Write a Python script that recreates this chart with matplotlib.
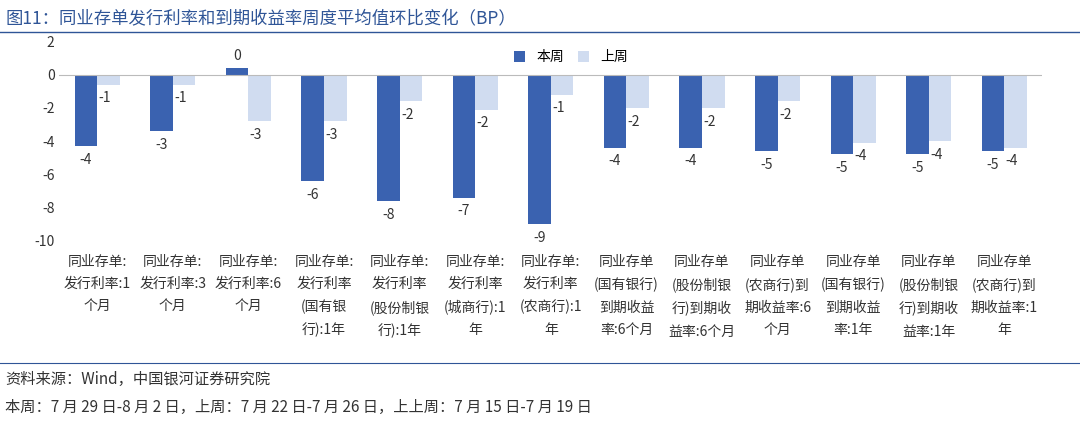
import matplotlib.pyplot as plt
import numpy as np

plt.rcParams['font.family'] = 'Noto Sans CJK SC'
plt.rcParams['axes.unicode_minus'] = False

categories = ['同业存单:\n发行利率:1\n个月', '同业存单:\n发行利率:3\n个月', '同业存单:\n发行利率:6\n个月',
              '同业存单:\n发行利率\n(国有银\n行):1年', '同业存单:\n发行利率\n(股份制银\n行):1年',
              '同业存单:\n发行利率\n(城商行):1\n年', '同业存单:\n发行利率\n(农商行):1\n年',
              '同业存单\n(国有银行)\n到期收益\n率:6个月', '同业存单\n(股份制银\n行)到期收\n益率:6个月',
              '同业存单\n(农商行)到\n期收益率:6\n个月', '同业存单\n(国有银行)\n到期收益\n率:1年',
              '同业存单\n(股份制银\n行)到期收\n益率:1年', '同业存单\n(农商行)到\n期收益率:1\n年']
this_week = [-4.3, -3.4, 0.4, -6.4, -7.6, -7.4, -9.0, -4.4, -4.4, -4.6, -4.8, -4.8, -4.6]
last_week = [-0.6, -0.6, -2.8, -2.8, -1.6, -2.1, -1.2, -2.0, -2.0, -1.6, -4.1, -4.0, -4.4]

fig = plt.figure(figsize=(10.8, 4.24), dpi=100)
ax = fig.add_axes([0.055, 0.432, 0.91, 0.47])
x = np.arange(len(categories))
w = 0.3
dark, light = '#3A62B0', '#D0DCF0'
ax.bar(x - w / 2, this_week, w, color=dark, label='本周')
ax.bar(x + w / 2, last_week, w, color=light, label='上周')
for xi, v in zip(x, this_week):
    ax.text(xi - w / 2, v + (0.3 if v > 0 else -0.4), f'{round(v):d}', ha='center',
            va='bottom' if v > 0 else 'top', fontsize=10, color='#333333')
for xi, v in zip(x, last_week):
    ax.text(xi + w / 2 - 0.05, v - 0.4, f'{round(v):d}', ha='center', va='top', fontsize=10, color='#333333')

ax.set_ylim(-10, 2)
ax.set_xlim(-0.5, len(categories) - 0.5)
ax.set_yticks(range(-10, 3, 2))
ax.axhline(0, color='#BBBBBB', lw=0.8)
for s in ax.spines.values():
    s.set_visible(False)
ax.tick_params(length=0, labelsize=10, colors='#333333')
ax.set_xticks(x)
ax.set_xticklabels(categories, fontsize=10, linespacing=1.75, va='top')
ax.tick_params(axis='x', pad=10)
ax.legend(loc='upper left', bbox_to_anchor=(0.45, 1.02), ncol=2, frameon=False, fontsize=10,
          handlelength=0.8, handleheight=0.8, columnspacing=1.0)

fig.text(0.005, 0.955, '图11：同业存单发行利率和到期收益率周度平均值环比变化（BP）', fontsize=12.5,
         color='#2F5597', va='center')
fig.add_artist(plt.Line2D([0, 1], [0.925, 0.925], color='#2F5597', lw=1))
fig.add_artist(plt.Line2D([0, 1], [0.145, 0.145], color='#2F5597', lw=0.8))
fig.text(0.005, 0.105, '资料来源：Wind，中国银河证券研究院', fontsize=11, style='italic', color='#333333', va='center')
fig.text(0.005, 0.04, '本周：7 月 29 日-8 月 2 日，上周：7 月 22 日-7 月 26 日，上上周：7 月 15 日-7 月 19 日',
         fontsize=11, style='italic', color='#333333', va='center')
fig.savefig('out.png', dpi=100)
